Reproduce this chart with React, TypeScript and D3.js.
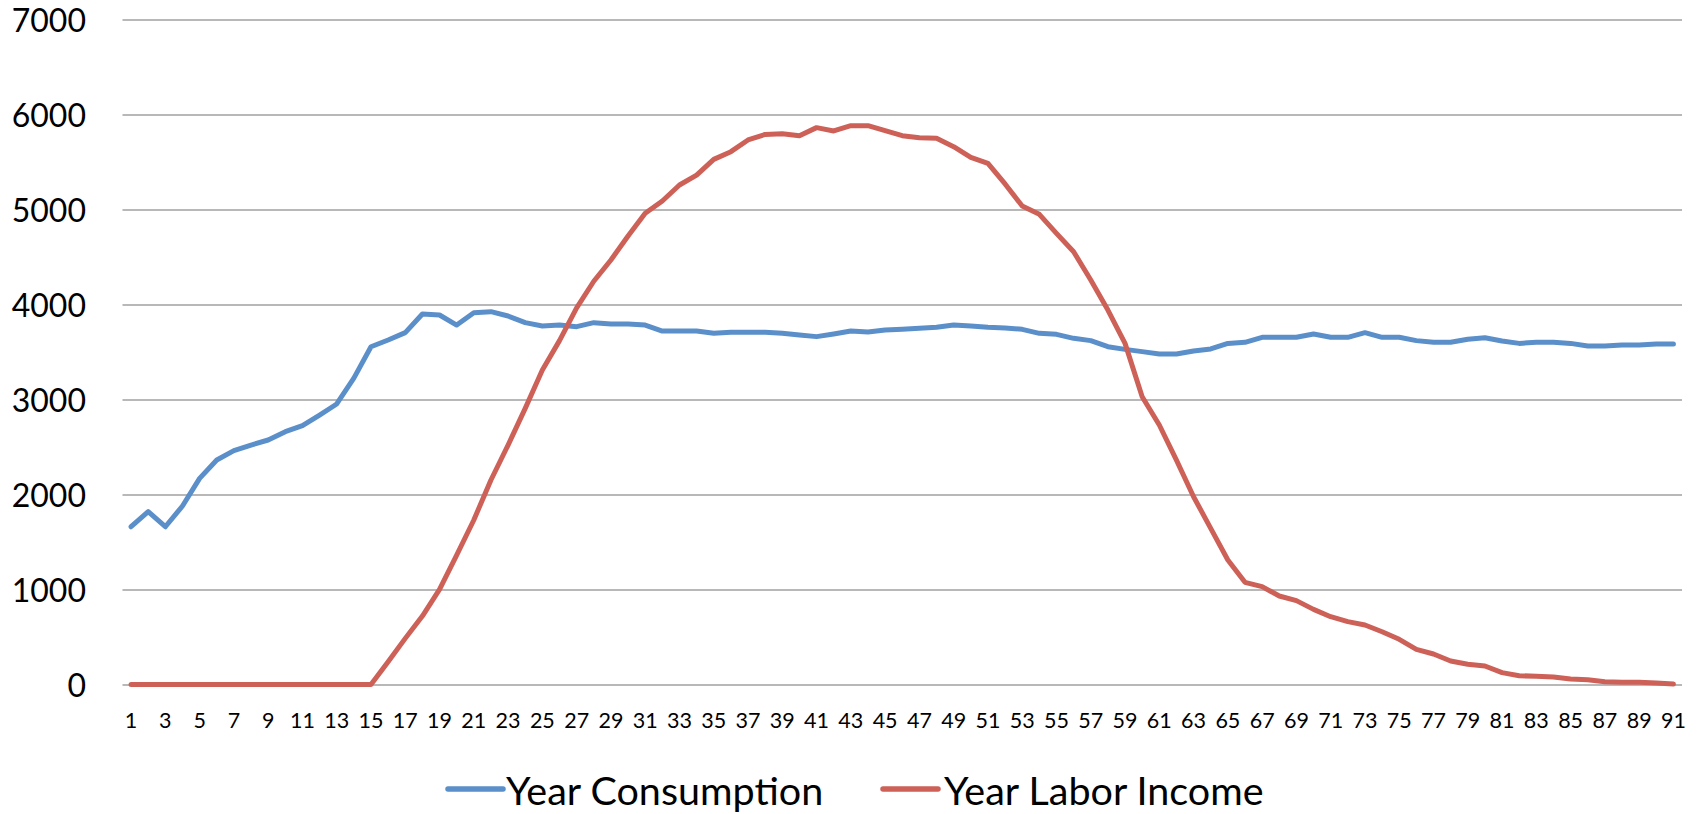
import React from "react";
import * as d3 from "d3";

const ages: number[] = Array.from({ length: 91 }, (_, i) => i + 1);

const consumption: number[] = [
  1666, 1825, 1666, 1884, 2175, 2368, 2467, 2526, 2579, 2667,
  2730, 2842, 2958, 3230, 3561, 3632, 3709, 3905, 3895, 3789,
  3919, 3930, 3884, 3814, 3779, 3789, 3772, 3814, 3800, 3800,
  3789, 3726, 3726, 3726, 3702, 3712, 3712, 3712, 3702, 3684,
  3667, 3695, 3726, 3716, 3737, 3744, 3754, 3765, 3789, 3779,
  3765, 3758, 3744, 3702, 3691, 3649, 3625, 3561, 3533, 3509,
  3484, 3484, 3516, 3537, 3596, 3607, 3660, 3660, 3660, 3695,
  3660, 3660, 3709, 3660, 3660, 3625, 3607, 3607, 3639, 3656,
  3621, 3596, 3607, 3607, 3596, 3568, 3568, 3579, 3579, 3589,
  3589,
];

const laborIncome: number[] = [
  5, 5, 5, 5, 5, 5, 5, 5, 5, 5,
  5, 5, 5, 5, 5, 245, 491, 726, 1007, 1368,
  1737, 2158, 2526, 2912, 3316, 3625, 3970, 4250, 4474, 4726,
  4965, 5095, 5263, 5368, 5533, 5614, 5737, 5796, 5803, 5782,
  5867, 5832, 5888, 5888, 5835, 5782, 5761, 5754, 5667, 5554,
  5491, 5274, 5042, 4954, 4754, 4561, 4263, 3947, 3596, 3035,
  2737, 2368, 1982, 1649, 1316, 1081, 1035, 937, 888, 796,
  719, 667, 632, 561, 481, 375, 326, 253, 218, 200,
  130, 98, 91, 84, 63, 56, 35, 28, 28, 21,
  10,
];

const yTicks: number[] = [0, 1000, 2000, 3000, 4000, 5000, 6000, 7000];
const seriesNames: string[] = ["Year Consumption", "Year Labor Income"];
const seriesColors: string[] = ["#5B8FCA", "#CD6158"];

const W = 1702;
const H = 814;
const left = 122.5;
const right = 1682;
const top = 20;
const bottom = 685;
const FONT = "Lato, 'Open Sans', sans-serif";

export default function App() {
  const x = d3
    .scaleBand<number>()
    .domain(ages)
    .range([left, right])
    .padding(0);
  const cx = (a: number) => (x(a) as number) + x.bandwidth() / 2;
  const y = d3.scaleLinear().domain([0, 7000]).range([bottom, top]);

  const line = d3
    .line<number>()
    .x((_, i) => cx(ages[i]))
    .y((v) => y(v));

  const series = [consumption, laborIncome];
  const legendItems = [
    { lineX: 448, textX: 506 },
    { lineX: 883, textX: 944 },
  ];

  return (
    <svg
      width={W}
      height={H}
      style={{ position: "absolute", left: 0, top: 0, background: "#fff" }}
    >
      {yTicks.map((t) => (
        <g key={t}>
          <line
            x1={left}
            x2={right}
            y1={y(t)}
            y2={y(t)}
            stroke="#A0A0A0"
            strokeWidth={1.6}
          />
          <text
            x={86}
            y={y(t) + 12}
            textAnchor="end"
            fontFamily={FONT}
            fontSize={32}
            fill="#000"
          >
            {t}
          </text>
        </g>
      ))}
      {ages
        .filter((a) => a % 2 === 1)
        .map((a) => (
          <text
            key={a}
            x={cx(a)}
            y={728}
            textAnchor="middle"
            fontFamily={FONT}
            fontSize={21.5}
            fill="#000"
          >
            {a}
          </text>
        ))}
      {series.map((s, i) => (
        <path
          key={i}
          d={line(s) || ""}
          fill="none"
          stroke={seriesColors[i]}
          strokeWidth={5}
          strokeLinejoin="round"
          strokeLinecap="round"
        />
      ))}
      {seriesNames.map((n, i) => (
        <g key={n}>
          <line
            x1={legendItems[i].lineX}
            x2={legendItems[i].lineX + 55}
            y1={789}
            y2={789}
            stroke={seriesColors[i]}
            strokeWidth={5.5}
            strokeLinecap="round"
          />
          <text
            x={legendItems[i].textX}
            y={805}
            fontFamily={FONT}
            fontSize={39.5}
            fill="#000"
          >
            {n}
          </text>
        </g>
      ))}
    </svg>
  );
}
